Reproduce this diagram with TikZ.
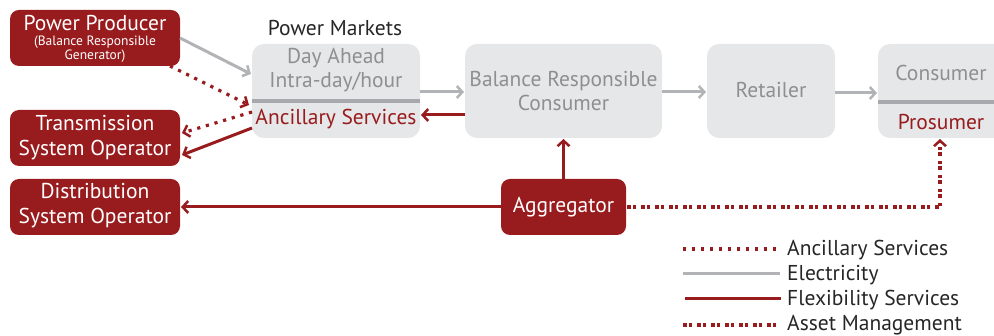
\documentclass[tikz,border=0pt]{standalone}
\usepackage{fontspec}
\setmainfont{PT Sans}
\usetikzlibrary{arrows.meta,calc}
\definecolor{dred}{HTML}{981B1E}
\definecolor{boxgray}{HTML}{E6E7E8}
\definecolor{txtgray}{HTML}{8E8F91}
\definecolor{sepgray}{HTML}{A7A9AC}
\definecolor{arrgray}{HTML}{B1B3B6}
\begin{document}
\begin{tikzpicture}[x=1pt,y=-1pt,
  redbox/.style={fill=dred,rounded corners=9pt},
  graybox/.style={fill=boxgray,rounded corners=12pt},
  bigfont/.style={font=\fontsize{21.5}{24.5}\selectfont},
  graytxt/.style={text=txtgray,align=center,bigfont},
  redtxt/.style={text=dred,align=center,bigfont},
  whitetxt/.style={text=white,align=center,bigfont},
  tip/.style={-{Straight Barb[length=5.5pt,width=12pt,line width=2.5pt]}},
  elec/.style={draw=arrgray,line width=3pt},
  flex/.style={draw=dred,line width=3pt},
  anc/.style={draw=dred,line width=3.2pt,dash pattern=on 3.2pt off 5.8pt},
  asset/.style={draw=dred,line width=3.2pt,dash pattern=on 3.5pt off 2pt on 3.5pt off 5pt},
  legtxt/.style={text=black!85,anchor=west,bigfont,inner sep=0pt}
]
\useasboundingbox (0,0) rectangle (994,336);
% red boxes
\path[redbox] (10,10) rectangle (180,66);
\node[whitetxt] (pptxt) at (95,23) {Power Producer};
\node[text=white,align=center,font=\fontsize{13.5}{14}\selectfont] (ppsub) at (95,49.5) {(Balance Responsible\\Generator)};
\path[redbox] (10,110) rectangle (180,166);
\node[whitetxt] (tso) at (95,137.5) {Transmission\\System Operator};
\path[redbox] (10,179) rectangle (180,235);
\node[whitetxt] (dso) at (95,205.5) {Distribution\\System Operator};
\path[redbox] (501,179) rectangle (626,235);
\node[whitetxt] (agg) at (563.5,207) {Aggregator};
% gray boxes
\node[bigfont,text=black!85] (pmtitle) at (335,28) {Power Markets};
\path[graybox] (252,44) rectangle (420,138);
\draw[sepgray,line width=4pt] (252,101) -- (420,101);
\node[graytxt] (pm) at (336,70) {Day Ahead\\Intra-day/hour};
\node[redtxt] (anc) at (336,119) {Ancillary Services};
\path[graybox] (465,44) rectangle (662,138);
\node[graytxt] (brc) at (563.5,91) {Balance Responsible\\Consumer};
\path[graybox] (707,44) rectangle (835,138);
\node[graytxt] (ret) at (771,90) {Retailer};
\path[graybox] (878,44) rectangle (1010,138);
\draw[sepgray,line width=4pt] (878,102) -- (994,102);
\node[graytxt] (con) at (941,73) {Consumer};
\node[redtxt] (pros) at (941,122) {Prosumer};
% connectors
\coordinate (ppR) at (180,38);
\coordinate (pmL1) at (251,74);
\draw[elec,tip] (ppR) -- (pmL1);
\coordinate (ppB) at (170,66);
\coordinate (pmL2) at (249,105);
\draw[anc,tip] (ppB) -- (pmL2);
\coordinate (pmL3) at (252,112);
\coordinate (tsoR1) at (182,133);
\draw[anc,tip] (pmL3) -- (tsoR1);
\coordinate (pmL4) at (252,128);
\coordinate (tsoR2) at (182,155);
\draw[flex,tip] (pmL4) -- (tsoR2);
\coordinate (pmR1) at (420,92);
\coordinate (brcL1) at (464,92);
\draw[elec,tip] (pmR1) -- (brcL1);
\coordinate (brcL2) at (465,115);
\coordinate (pmR2) at (421,115);
\draw[flex,tip] (brcL2) -- (pmR2);
\coordinate (brcR) at (662,92);
\coordinate (retL) at (706,92);
\draw[elec,tip] (brcR) -- (retL);
\coordinate (retR) at (835,93);
\coordinate (conL) at (877,93);
\draw[elec,tip] (retR) -- (conL);
\coordinate (aggT) at (563.5,179);
\coordinate (brcB) at (563.5,139);
\draw[flex,tip] (aggT) -- (brcB);
\coordinate (aggL) at (501,207);
\coordinate (dsoR) at (181,207);
\draw[flex,tip] (aggL) -- (dsoR);
\coordinate (aggR) at (627,207);
\coordinate (prosB) at (940,139);
\draw[asset,tip] (aggR) -- (940,207) -- (prosB);
% legend
\coordinate (l1a) at (683,249); \coordinate (l1b) at (780,249);
\draw[anc] (l1a) -- (l1b);
\node[legtxt] (lt1) at (787,250.5) {Ancillary Services};
\coordinate (l2a) at (683,274); \coordinate (l2b) at (780,274);
\draw[elec] (l2a) -- (l2b);
\node[legtxt] (lt2) at (787,275.5) {Electricity};
\coordinate (l3a) at (685,299); \coordinate (l3b) at (781,299);
\draw[flex] (l3a) -- (l3b);
\node[legtxt] (lt3) at (787,300.5) {Flexibility Services};
\coordinate (l4a) at (683,325); \coordinate (l4b) at (780,325);
\draw[asset] (l4a) -- (l4b);
\node[legtxt] (lt4) at (787,325) {Asset Management};
\end{tikzpicture}
\end{document}
